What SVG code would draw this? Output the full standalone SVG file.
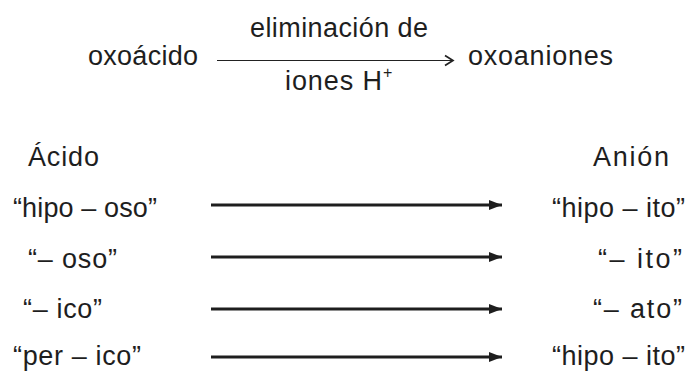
<svg xmlns="http://www.w3.org/2000/svg" width="689" height="374" viewBox="0 0 689 374">
<style>
text{font-family:"Liberation Sans",Arial,sans-serif;font-size:27px;fill:#1e1e1e}
.thin{stroke:#222;stroke-width:1.2;fill:none}
.thick{stroke:#1e1e1e;stroke-width:2.8;fill:none}
</style>
<defs>
<marker id="open" markerWidth="12" markerHeight="14" refX="10" refY="7" orient="auto" markerUnits="userSpaceOnUse">
<path d="M2,2 L10,7 L2,12" fill="none" stroke="#222" stroke-width="1.7"/>
</marker>
<marker id="solid" markerWidth="14" markerHeight="14" refX="13" refY="7" orient="auto" markerUnits="userSpaceOnUse">
<path d="M0,2 L13,7 L0,12 Z" fill="#1e1e1e"/>
</marker>
</defs>
<rect width="689" height="374" fill="#fff"/>
<g id="connectors">
<line class="thin" x1="217" y1="60.5" x2="453" y2="60.5" marker-end="url(#open)"/>
<line class="thick" x1="211" y1="205" x2="502" y2="205" marker-end="url(#solid)"/>
<line class="thick" x1="211" y1="257" x2="502" y2="257" marker-end="url(#solid)"/>
<line class="thick" x1="211" y1="309" x2="502" y2="309" marker-end="url(#solid)"/>
<line class="thick" x1="211" y1="357" x2="502" y2="357" marker-end="url(#solid)"/>
</g>
<g id="oxoacido"><text x="88" y="65" textLength="110">oxoácido</text></g>
<g id="label-top"><text x="250" y="37" textLength="178">eliminación de</text></g>
<g id="label-bottom"><text x="285" y="90"><tspan textLength="97">iones H</tspan><tspan font-size="16" dy="-12">+</tspan></text></g>
<g id="oxoaniones"><text x="468" y="65" textLength="145">oxoaniones</text></g>
<g id="acido-head"><text x="28" y="166" textLength="71">Ácido</text></g>
<g id="anion-head"><text x="593" y="166" textLength="76">Anión</text></g>
<g id="acid-1"><text x="13" y="217" textLength="144">“hipo – oso”</text></g>
<g id="acid-2"><text x="28" y="268" textLength="89">“– oso”</text></g>
<g id="acid-3"><text x="23" y="318" textLength="79">“– ico”</text></g>
<g id="acid-4"><text x="13" y="365" textLength="128">“per – ico”</text></g>
<g id="anion-1"><text x="552" y="217" textLength="133">“hipo – ito”</text></g>
<g id="anion-2"><text x="598" y="268" textLength="84">“– ito”</text></g>
<g id="anion-3"><text x="593" y="318" textLength="89">“– ato”</text></g>
<g id="anion-4"><text x="552" y="365" textLength="133">“hipo – ito”</text></g>
</svg>
